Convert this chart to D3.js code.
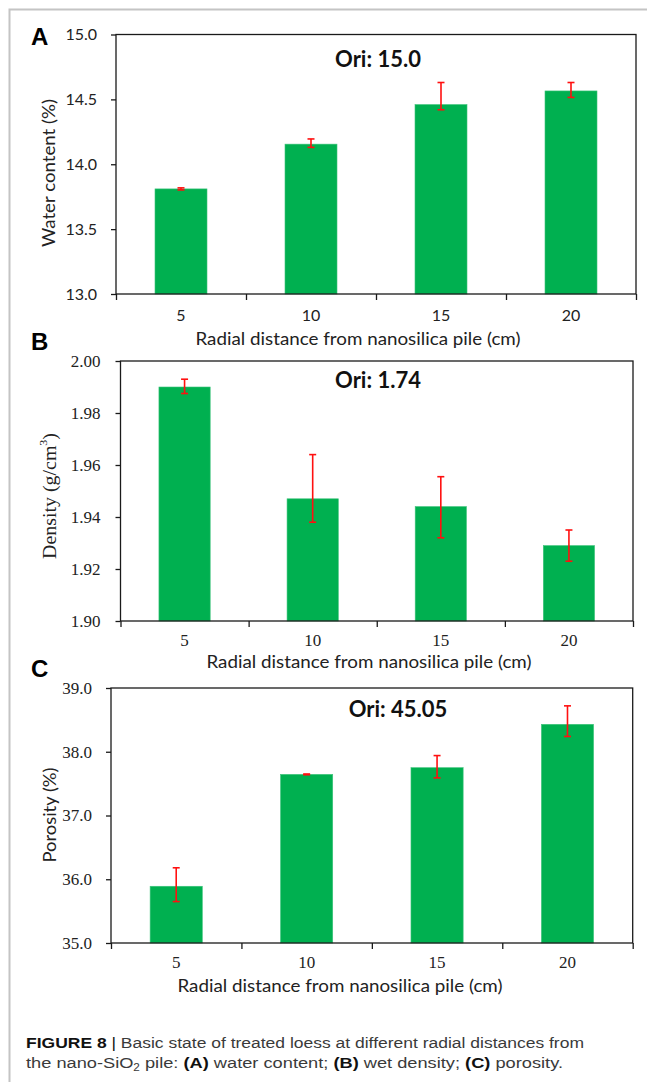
<!DOCTYPE html>
<html>
<head>
<meta charset="utf-8">
<script src="https://cdn.jsdelivr.net/npm/d3@7"></script>
<style>
  body { margin: 0; background: #fff; }
  svg { display: block; }
</style>
</head>
<body>
<svg id="fig" width="647" height="1082"></svg>
<script>
// radial distance (cm)
var categories = ["5", "10", "15", "20"];

// (A) water content (%)
var waterContent = [13.81, 14.155, 14.46, 14.565];
var waterErrUp = [0.008, 0.04, 0.17, 0.065];
var waterErrDown = [0.008, 0.025, 0.04, 0.05];
var waterTicks = [13.0, 13.5, 14.0, 14.5, 15.0];

// (B) wet density (g/cm3)
var density = [1.990, 1.947, 1.944, 1.929];
var densityErrUp = [0.003, 0.017, 0.0115, 0.006];
var densityErrDown = [0.0025, 0.009, 0.012, 0.006];
var densityTicks = [1.90, 1.92, 1.94, 1.96, 1.98, 2.00];

// (C) porosity (%)
var porosity = [35.89, 37.645, 37.75, 38.43];
var porosityErrUp = [0.29, 0.006, 0.19, 0.29];
var porosityErrDown = [0.24, 0.006, 0.16, 0.19];
var porosityTicks = [35.0, 36.0, 37.0, 38.0, 39.0];

var sans = "Lato, 'Open Sans', sans-serif",
    serif = "'Liberation Serif', 'DejaVu Serif', serif",
    arial = "'Liberation Sans', Arial, sans-serif";

var svg = d3.select("#fig");
svg.append("rect").attr("width", 647).attr("height", 1082).attr("fill", "#fff");

// light frame round the figure
svg.append("path")
    .attr("d", "M9.5,1082V9.5H647")
    .attr("fill", "none")
    .attr("stroke", "#c4c4c4")
    .attr("stroke-width", 2);

function drawPanel(p) {
    var g = svg.append("g");

    var x = d3.scaleBand()
        .domain(categories)
        .range([p.left, p.right])
        .paddingInner(0.6)
        .paddingOuter(0.3);

    var xTicks = d3.scaleLinear()
        .domain([0, categories.length])
        .range([p.left, p.right]);

    var y = d3.scaleLinear()
        .domain(d3.extent(p.ticks))
        .range([p.bottom, p.top]);

    // bars
    g.selectAll("rect.bar")
        .data(p.values)
        .enter().append("rect")
        .attr("class", "bar")
        .attr("x", function(d, i) { return x(categories[i]); })
        .attr("width", x.bandwidth())
        .attr("y", function(d) { return y(d); })
        .attr("height", function(d) { return p.bottom - y(d); })
        .attr("fill", "#00b050")
        .attr("stroke", "#3cc47a")
        .attr("stroke-width", 0.6);

    // error bars
    var err = g.selectAll("g.err")
        .data(p.values)
        .enter().append("g")
        .attr("class", "err")
        .attr("stroke", "#ff1010")
        .attr("stroke-width", 1.6);

    function cx(i) { return x(categories[i]) + x.bandwidth() / 2; }

    err.append("line")
        .attr("x1", function(d, i) { return cx(i); })
        .attr("x2", function(d, i) { return cx(i); })
        .attr("y1", function(d, i) { return y(d + p.errUp[i]); })
        .attr("y2", function(d, i) { return y(d - p.errDown[i]); });
    err.append("line")
        .attr("x1", function(d, i) { return cx(i) - 3.5; })
        .attr("x2", function(d, i) { return cx(i) + 3.5; })
        .attr("y1", function(d, i) { return y(d + p.errUp[i]); })
        .attr("y2", function(d, i) { return y(d + p.errUp[i]); });
    err.append("line")
        .attr("x1", function(d, i) { return cx(i) - 3.5; })
        .attr("x2", function(d, i) { return cx(i) + 3.5; })
        .attr("y1", function(d, i) { return y(d - p.errDown[i]); })
        .attr("y2", function(d, i) { return y(d - p.errDown[i]); });

    // plot frame
    g.append("rect")
        .attr("x", p.left).attr("y", p.top)
        .attr("width", p.right - p.left)
        .attr("height", p.bottom - p.top)
        .attr("fill", "none")
        .attr("stroke", "#1a1a1a")
        .attr("stroke-width", 1.3);

    // y axis
    var yAxis = g.append("g")
        .attr("transform", "translate(" + p.left + ",0)")
        .call(d3.axisLeft(y).tickValues(p.ticks).tickSizeInner(5).tickSizeOuter(0)
            .tickPadding(p.yPad).tickFormat(d3.format(p.fmt)));
    yAxis.select(".domain").remove();
    yAxis.selectAll("line").attr("stroke", "#1a1a1a").attr("stroke-width", 1.3);
    yAxis.selectAll("text")
        .attr("font-family", p.yFont).attr("font-size", p.yFontSize)
        .attr("fill", "#222");

    // x axis: tick marks between the bars
    var xAxis = g.append("g")
        .attr("transform", "translate(0," + p.bottom + ")")
        .call(d3.axisBottom(xTicks).tickValues(d3.range(categories.length + 1))
            .tickSizeInner(6).tickSizeOuter(0).tickFormat(""));
    xAxis.select(".domain").remove();
    xAxis.selectAll("line").attr("stroke", "#1a1a1a").attr("stroke-width", 1.3);

    // x labels
    var xLab = g.append("g")
        .attr("transform", "translate(0," + p.bottom + ")")
        .call(d3.axisBottom(x).tickSize(0).tickPadding(p.xPad));
    xLab.select(".domain").remove();
    xLab.selectAll("text")
        .attr("font-family", p.xFont).attr("font-size", p.xFontSize)
        .attr("fill", "#222");

    // axis titles
    g.append("text")
        .attr("x", p.xTitle[0]).attr("y", p.xTitle[1])
        .attr("text-anchor", "middle").attr("dominant-baseline", "central")
        .attr("font-family", sans).attr("font-size", 17)
        .attr("textLength", 325).attr("lengthAdjust", "spacingAndGlyphs")
        .attr("fill", "#222")
        .text("Radial distance from nanosilica pile (cm)");

    var yt = g.append("text")
        .attr("transform", "translate(" + p.yTitle[0] + "," + p.yTitle[1] + ") rotate(-90)")
        .attr("text-anchor", "middle").attr("dominant-baseline", "central")
        .attr("font-family", p.yTitleFont).attr("font-size", p.yTitleSize)
        .attr("textLength", p.yTitleLen).attr("lengthAdjust", "spacingAndGlyphs")
        .attr("fill", "#222");
    p.yTitleText.forEach(function(t) {
        var s = yt.append("tspan").text(t[0]);
        if (t[1]) s.attr("baseline-shift", "super").attr("font-size", p.yTitleSize * 0.6);
    });

    // original value
    g.append("text")
        .attr("x", p.ori[0]).attr("y", p.ori[1])
        .attr("text-anchor", "middle").attr("dominant-baseline", "central")
        .attr("font-family", sans).attr("font-weight", "bold").attr("font-size", 22)
        .attr("fill", "#111")
        .text(p.oriText);

    // panel letter
    g.append("text")
        .attr("x", 31).attr("y", p.letterY)
        .attr("dominant-baseline", "central")
        .attr("font-family", arial).attr("font-weight", "bold").attr("font-size", 24)
        .attr("fill", "#000")
        .text(p.letter);
}

drawPanel({
    letter: "A", letterY: 36,
    left: 116, right: 636, top: 34.5, bottom: 294,
    values: waterContent, errUp: waterErrUp, errDown: waterErrDown,
    ticks: waterTicks, fmt: ".1f",
    yFont: sans, yFontSize: 16, yPad: 14,
    xFont: sans, xFontSize: 16, xPad: 16,
    xTitle: [358, 338],
    yTitle: [48, 173], yTitleFont: sans, yTitleSize: 18, yTitleLen: 148,
    yTitleText: [["Water content (%)"]],
    ori: [378, 58], oriText: "Ori: 15.0"
});

drawPanel({
    letter: "B", letterY: 341,
    left: 120.5, right: 633, top: 361, bottom: 621,
    values: density, errUp: densityErrUp, errDown: densityErrDown,
    ticks: densityTicks, fmt: ".2f",
    yFont: serif, yFontSize: 17, yPad: 15,
    xFont: serif, xFontSize: 17, xPad: 13,
    xTitle: [369, 661],
    yTitle: [49, 496], yTitleFont: serif, yTitleSize: 19, yTitleLen: 126,
    yTitleText: [["Density  (g/cm"], ["3", true], [")"]],
    ori: [378, 379], oriText: "Ori: 1.74"
});

drawPanel({
    letter: "C", letterY: 668,
    left: 111, right: 632.7, top: 688, bottom: 943,
    values: porosity, errUp: porosityErrUp, errDown: porosityErrDown,
    ticks: porosityTicks, fmt: ".1f",
    yFont: serif, yFontSize: 17, yPad: 14,
    xFont: serif, xFontSize: 17, xPad: 13,
    xTitle: [340, 985],
    yTitle: [49, 815], yTitleFont: sans, yTitleSize: 18, yTitleLen: 95,
    yTitleText: [["Porosity (%)"]],
    ori: [398, 708], oriText: "Ori: 45.05"
});

// caption
var cap1 = svg.append("text")
    .attr("x", 26).attr("y", 1048)
    .attr("font-family", arial).attr("font-size", 15.5)
    .attr("textLength", 558).attr("lengthAdjust", "spacingAndGlyphs")
    .attr("fill", "#3a3a3a");
cap1.append("tspan").attr("font-weight", "bold").attr("fill", "#111").text("FIGURE 8");
cap1.append("tspan").attr("fill", "#111").text(" | ");
cap1.append("tspan").text("Basic state of treated loess at different radial distances from");

var cap2 = svg.append("text")
    .attr("x", 26).attr("y", 1068)
    .attr("font-family", arial).attr("font-size", 15.5)
    .attr("textLength", 537).attr("lengthAdjust", "spacingAndGlyphs")
    .attr("fill", "#3a3a3a");
cap2.append("tspan").text("the nano-SiO");
cap2.append("tspan").attr("font-size", 10).attr("dy", 3).text("2");
cap2.append("tspan").attr("dy", -3).text(" pile: ");
cap2.append("tspan").attr("font-weight", "bold").attr("fill", "#111").text("(A)");
cap2.append("tspan").text(" water content; ");
cap2.append("tspan").attr("font-weight", "bold").attr("fill", "#111").text("(B)");
cap2.append("tspan").text(" wet density; ");
cap2.append("tspan").attr("font-weight", "bold").attr("fill", "#111").text("(C)");
cap2.append("tspan").text(" porosity.");
</script>
</body>
</html>
